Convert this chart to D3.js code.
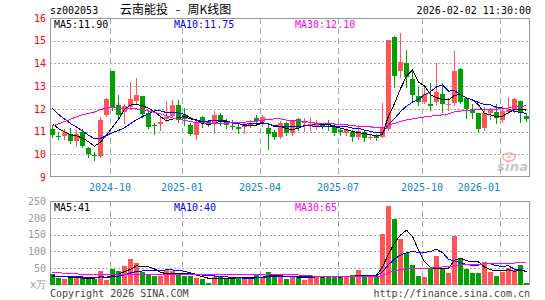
<!DOCTYPE html>
<html>
<head>
<meta charset="utf-8">
<script src="https://cdn.jsdelivr.net/npm/d3@7"></script>
<style>
  body { margin: 0; background: #fff; }
  svg text { font-family: "DejaVu Sans Mono", monospace; font-size: 10px; }
</style>
</head>
<body>
<svg id="chart" width="545" height="300"></svg>
<script>
const stockCode = 'sz002053';
const chartTitle = '云南能投 - 周K线图';
const timeStamp = '2026-02-02 11:30:00';

// weekly candles, week of 2024-07-29 through week of 2026-02-02
const open = [11.10,10.82,10.81,10.88,10.59,11.00,10.29,9.95,9.93,11.73,
  13.67,12.16,11.88,12.10,12.35,12.57,11.80,11.30,11.33,11.55,
  11.69,12.17,11.75,11.29,10.87,11.63,11.45,11.36,11.72,11.43,
  11.26,11.21,11.21,11.25,11.59,11.43,11.15,11.00,10.76,11.37,
  10.93,11.54,11.36,11.26,11.25,11.31,11.25,11.26,11.05,10.93,
  11.00,10.76,11.00,10.74,10.82,10.78,11.10,15.18,13.68,14.00,
  13.30,12.57,12.29,12.21,12.32,12.65,12.19,12.24,13.75,12.46,
  12.00,11.80,11.14,11.80,11.88,11.51,11.88,11.95,12.36,11.69];
const high = [11.30,11.00,11.10,11.17,11.07,11.10,10.34,10.09,11.66,12.48,
  13.67,12.60,12.21,13.20,13.37,12.57,11.92,11.39,11.63,12.33,
  12.39,12.39,12.02,11.36,11.51,11.69,11.52,11.90,11.80,11.57,
  11.53,11.32,11.43,11.53,11.72,11.72,11.32,11.07,11.46,11.43,
  11.50,11.58,11.58,11.58,11.50,11.36,11.51,11.32,11.16,11.12,
  11.09,11.29,11.07,10.85,10.88,12.27,15.03,15.22,15.35,14.59,
  13.74,12.98,13.05,13.12,14.00,13.12,12.46,14.55,13.80,12.54,
  12.21,11.83,12.10,12.02,12.21,12.13,12.51,12.49,12.36,11.80];
const low = [10.75,10.66,10.67,10.48,10.37,10.31,9.87,9.77,9.87,11.70,
  11.95,11.63,11.39,12.02,12.21,11.63,11.16,10.88,11.07,11.45,
  11.63,11.44,11.29,10.85,10.67,11.19,11.25,10.95,11.29,11.14,
  11.10,10.95,10.93,11.20,11.36,11.25,10.24,10.66,10.71,10.87,
  10.86,11.07,11.02,11.08,11.10,11.14,11.07,10.83,10.86,10.86,
  10.60,10.68,10.57,10.66,10.63,10.75,11.05,12.98,13.42,12.95,
  12.39,12.17,12.24,11.95,12.21,11.88,11.95,12.17,12.24,11.58,
  11.58,10.97,11.07,11.54,11.36,11.44,11.80,11.88,11.44,11.48];
const close = [10.85,10.80,10.92,10.60,10.88,10.37,10.00,9.92,11.51,12.43,
  12.10,11.73,12.13,12.43,12.62,11.76,11.22,11.28,11.44,11.65,
  12.17,11.51,11.55,10.89,11.44,11.36,11.36,11.72,11.42,11.30,
  11.24,11.10,11.31,11.34,11.45,11.65,10.89,10.78,11.37,10.95,
  11.45,11.15,11.44,11.34,11.37,11.23,11.23,10.95,10.98,11.05,
  10.78,11.03,10.70,10.77,10.70,11.22,15.03,13.45,14.06,13.42,
  12.61,12.32,12.65,12.13,12.74,12.21,12.22,13.67,12.29,12.00,
  11.80,11.11,11.80,11.95,11.58,11.92,11.95,12.45,11.88,11.54];
// weekly volume, x万
const volume = [33,21.5,17,21.5,21.5,21.5,21.5,17,41,14.7,
  47,41,56,76,65.5,38,33,26.5,26.5,43.5,
  41,32,27,27,21.5,17.6,7,24.5,24.5,20.6,
  20.6,20.6,23,21.5,29.7,21.5,38,24.5,24.5,16.7,
  27.4,22.5,15.7,29.4,27.4,22.5,27.4,25.5,22.5,22.5,
  29.4,45,27.4,22.5,22.5,151,236,195,138,96,
  60,27,24.5,50,86,52,37,145,79,48,
  35,37,69,40,27.4,40,50,45,59,6];

// 29 weeks before the window, only feed the moving averages (estimated from where the MA lines start)
const priorClose = [8.3,8.0,7.6,7.5,7.8,8.0,8.2,8.2,
  10.5,11.5,12.2,12.6,12.9,13.0,12.8,12.9,13.2,13.35,
  14.3,14.7,13.4,13.0,12.6,12.4,12.05,11.9,11.6,11.3,11.1];
const priorVolume = [40,55,60,48,45,38,35,42,50,46,38,36,40,44,48,38,34,40,30,43,
  28,24,26,22,25,24,28,26,24];

const tickWeek = [10, 22, 35, 48, 62, 75];
const tickLabel = ['2024-10', '2025-01', '2025-04', '2025-07', '2025-10', '2026-01'];
const priceTicks = [9, 10, 11, 12, 13, 14, 15, 16];
const volTicks = [50, 100, 150, 200, 250];

const maPeriods = [5, 10, 30];
const maColors = ['#000000', '#0000ff', '#ff00ff'];
const priceMaLegend = ['11.90', '11.75', '12.10'];
const volMaLegend = ['41', '40', '65'];

const upColor = '#ff5555', downColor = '#00a000';
const left = 50, right = 530;
const priceTop = 18, priceBottom = 177;
const volTop = 201, volBottom = 285;

const svg = d3.select('#chart');

const x = d3.scaleBand()
  .domain(d3.range(close.length))
  .range([left, right]);
const cx = i => x(i) + 2.5;
const yPrice = d3.scaleLinear().domain([9, 16]).range([priceBottom, priceTop]);
const yVol = d3.scaleLinear().domain([0, 250]).range([volBottom, volTop]);

function movingAverage(prior, values, n) {
  const all = prior.concat(values);
  return values.map((v, i) => d3.mean(all.slice(prior.length + i - n + 1, prior.length + i + 1)));
}

// header
svg.append('text').attr('x', 50).attr('y', 14).text(stockCode);
svg.append('text').attr('x', 120).attr('y', 14)
  .style('font-family', '"Noto Sans CJK SC", sans-serif').style('font-size', '12px')
  .style('word-spacing', '5px')
  .text(chartTitle);
svg.append('text').attr('x', 531).attr('y', 14).attr('text-anchor', 'end').text(timeStamp);

// draws grid, frame and legend for one panel
function panel(y0, y1, yScale, ticks, gridTicks, labelColor, legendValues) {
  const g = svg.append('g');
  g.selectAll('.hgrid')
    .data(gridTicks)
    .enter().append('line')
    .attr('x1', left).attr('x2', right)
    .attr('y1', d => Math.round(yScale(d)) + 0.5)
    .attr('y2', d => Math.round(yScale(d)) + 0.5)
    .attr('stroke', '#aaa').attr('stroke-dasharray', '2,2');
  g.selectAll('.vgrid')
    .data(tickWeek)
    .enter().append('line')
    .attr('x1', d => x(d) + 0.5).attr('x2', d => x(d) + 0.5)
    .attr('y1', y0).attr('y2', y1)
    .attr('stroke', '#aaa').attr('stroke-dasharray', '6,4');
  g.append('rect')
    .attr('x', left + 0.5).attr('y', y0 + 0.5)
    .attr('width', right - left - 1).attr('height', y1 - y0 - 1)
    .attr('fill', 'none').attr('stroke', '#999');

  const axis = g.append('g')
    .attr('transform', `translate(${left},0)`)
    .call(d3.axisLeft(yScale).tickValues(ticks).tickSize(0).tickPadding(4).tickFormat(d3.format('d')));
  axis.select('.domain').remove();
  axis.selectAll('text')
    .attr('fill', labelColor)
    .style('font-family', '"DejaVu Sans Mono", monospace')
    .style('font-size', '10px');

  const legendX = [54, 174, 295];
  maPeriods.forEach((p, k) => {
    svg.append('text')
      .attr('x', legendX[k]).attr('y', y0 + 10)
      .attr('fill', maColors[k])
      .text(`MA${p}:${legendValues[k]}`);
  });
  return g;
}

panel(priceTop, priceBottom, yPrice, priceTicks, [10, 11, 12, 13, 14, 15], '#ff0000', priceMaLegend);
panel(volTop, volBottom, yVol, volTicks, [50, 100, 150, 200], '#999', volMaLegend);

// sina watermark
const mark = svg.append('g').attr('opacity', 0.55);
mark.append('ellipse').attr('cx', 509).attr('cy', 157).attr('rx', 6).attr('ry', 4)
  .attr('fill', 'none').attr('stroke', '#f07070').attr('stroke-width', 1.5);
mark.append('circle').attr('cx', 509).attr('cy', 157).attr('r', 1.5).attr('fill', '#f07070');
mark.append('text').attr('x', 497).attr('y', 171)
  .attr('textLength', 31)
  .style('font-family', '"DejaVu Sans", sans-serif').style('font-size', '13px')
  .style('font-weight', 'bold').style('font-style', 'italic')
  .attr('fill', '#999').text('sina');

// date labels under the price panel
svg.selectAll('.date')
  .data(tickWeek)
  .enter().append('text')
  .attr('x', d => x(d))
  .attr('y', 191)
  .attr('text-anchor', d => x(d) + 22 > right - 10 ? 'end' : 'middle')
  .attr('fill', '#0a84d0')
  .text((d, i) => tickLabel[i]);

const rising = i => close[i] >= open[i];

// candles
const candles = svg.append('g').attr('shape-rendering', 'crispEdges');
candles.selectAll('.wick')
  .data(close)
  .enter().append('line')
  .attr('x1', (d, i) => cx(i)).attr('x2', (d, i) => cx(i))
  .attr('y1', (d, i) => Math.round(yPrice(high[i])))
  .attr('y2', (d, i) => Math.round(yPrice(low[i])) + 1)
  .attr('stroke', (d, i) => rising(i) ? upColor : downColor);
candles.selectAll('.body')
  .data(close)
  .enter().append('rect')
  .attr('x', (d, i) => x(i))
  .attr('width', x.bandwidth() - 1)
  .attr('y', (d, i) => Math.round(yPrice(Math.max(open[i], close[i]))))
  .attr('height', (d, i) => Math.max(1,
    Math.round(yPrice(Math.min(open[i], close[i]))) - Math.round(yPrice(Math.max(open[i], close[i])))))
  .attr('fill', (d, i) => rising(i) ? upColor : downColor);

// volume bars
svg.append('g').attr('shape-rendering', 'crispEdges')
  .selectAll('rect')
  .data(volume)
  .enter().append('rect')
  .attr('x', (d, i) => x(i))
  .attr('width', x.bandwidth() - 1)
  .attr('y', d => Math.round(yVol(d)))
  .attr('height', d => volBottom - Math.round(yVol(d)))
  .attr('fill', (d, i) => rising(i) ? upColor : downColor);

// moving average lines
maPeriods.forEach((p, k) => {
  const pl = d3.line().x((d, i) => cx(i)).y(d => yPrice(d));
  svg.append('path')
    .datum(movingAverage(priorClose, close, p))
    .attr('d', pl)
    .attr('fill', 'none').attr('stroke', maColors[k])
    .attr('shape-rendering', 'crispEdges');
  const vl = d3.line().x((d, i) => cx(i)).y(d => yVol(d));
  svg.append('path')
    .datum(movingAverage(priorVolume, volume, p))
    .attr('d', vl)
    .attr('fill', 'none').attr('stroke', maColors[k])
    .attr('shape-rendering', 'crispEdges');
});

// footer
svg.append('text').attr('x', 30).attr('y', 288).attr('fill', '#999').text('x万');
svg.append('text').attr('x', 50).attr('y', 297).attr('fill', '#444').text('Copyright 2026 SINA.COM');
svg.append('text').attr('x', 530).attr('y', 297).attr('text-anchor', 'end')
  .attr('fill', '#444').text('http://finance.sina.com.cn');
</script>
</body>
</html>
